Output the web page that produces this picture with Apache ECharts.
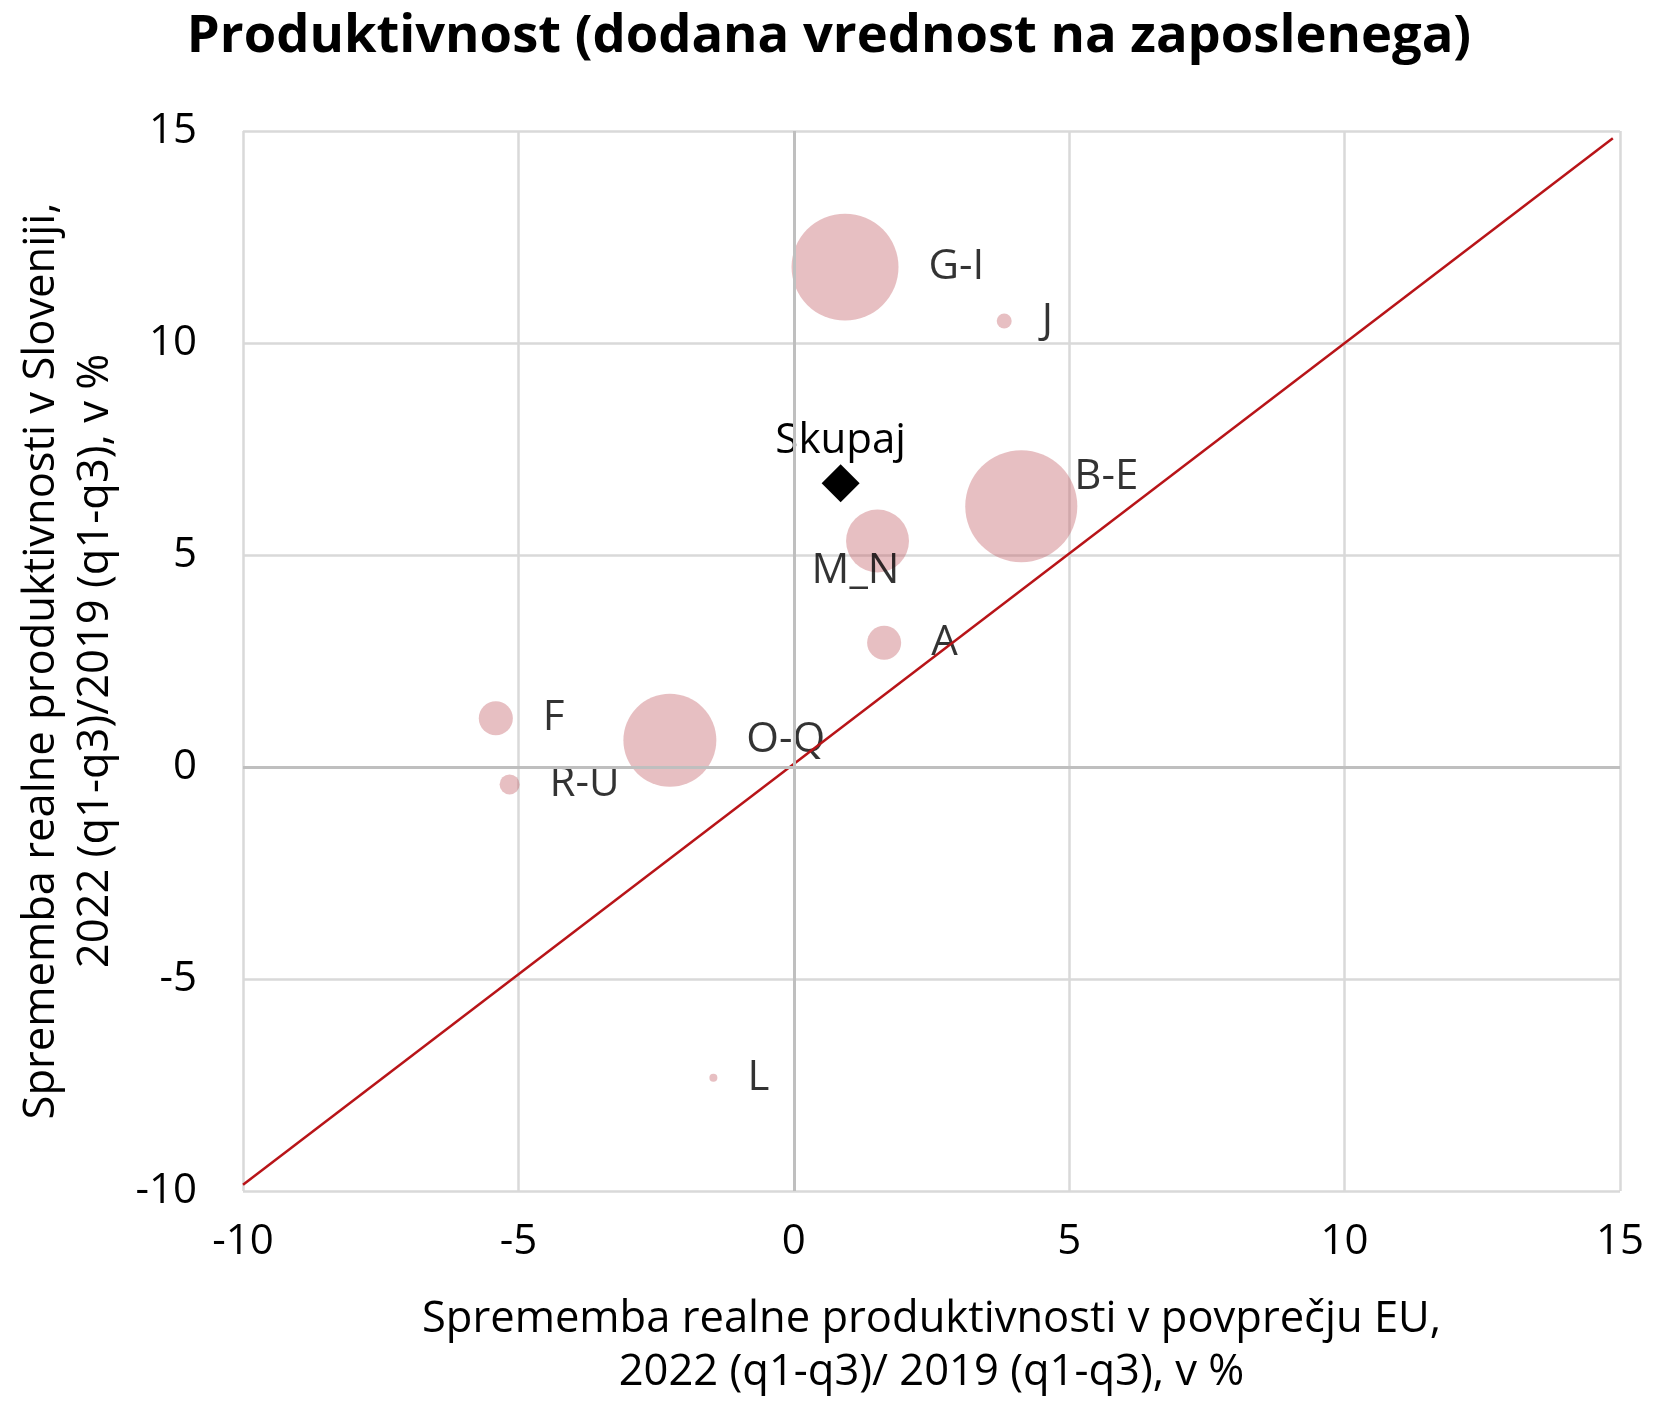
<!DOCTYPE html>
<html>
<head>
<meta charset="utf-8">
<title>Produktivnost</title>
<script src="https://cdn.jsdelivr.net/npm/echarts@6/dist/echarts.min.js"></script>
<style>
  html, body { margin: 0; padding: 0; background: #fff; }
  #main { width: 1654px; height: 1404px; }
</style>
</head>
<body>
<div id="main"></div>
<script type="text/javascript">
// sektorji (dejavnosti)
var sectors = ['G-I', 'J', 'B-E', 'M_N', 'A', 'F', 'O-Q', 'R-U', 'L'];
// sprememba produktivnosti v povprečju EU (x) in v Sloveniji (y), v %
var euChange  = [0.93, 3.82, 4.13, 1.52, 1.64, -5.41, -2.25, -5.16, -1.46];
var sloChange = [11.79, 10.52, 6.15, 5.33, 2.93, 1.15, 0.63, -0.41, -7.33];
// utež (velikost mehurčka)
var weights   = [28.6, 0.56, 31.4, 9.9, 2.9, 2.9, 21.6, 1.0, 0.16];
// skupaj
var totalPoint = [0.85, 6.69];
// diagonala y = x
var diagX = [-10, 14.87];
var diagY = [-9.85, 14.83];
var axisTicks = [-10, -5, 0, 5, 10, 15];

var FONT = '"Open Sans", "Noto Sans", sans-serif';

var myChart = echarts.init(document.getElementById('main'));

var bubbleData = [];
for (var i = 0; i < sectors.length; i++) {
  var item = { name: sectors[i], value: [euChange[i], sloChange[i], weights[i]] };
  if (sectors[i] === 'B-E') {
    item.label = { position: 'right', distance: 0, offset: [-3, -29] };
  } else if (sectors[i] === 'M_N') {
    item.label = { position: 'inside', offset: [-22, 30] };
  }
  bubbleData.push(item);
}

var diagData = [];
for (var k = 0; k < diagX.length; k++) diagData.push([diagX[k], diagY[k]]);

var option = {
  animation: false,
  backgroundColor: '#fff',
  title: {
    text: 'Produktivnost (dodana vrednost na zaposlenega)',
    left: 824,
    top: 6,
    textAlign: 'center',
    textStyle: { fontFamily: FONT, fontWeight: 'bold', fontSize: 52.5, color: '#000' }
  },
  grid: { left: 243, right: 34, top: 131, bottom: 207, containLabel: false },
  xAxis: {
    type: 'value',
    min: axisTicks[0],
    max: axisTicks[axisTicks.length - 1],
    interval: 5,
    name: 'Sprememba realne produktivnosti v povprečju EU,\n2022 (q1-q3)/ 2019 (q1-q3), v %',
    nameLocation: 'middle',
    nameGap: 102,
    nameTextStyle: { fontFamily: FONT, fontSize: 43.5, color: '#000', lineHeight: 53 },
    axisLine: { show: false },
    axisTick: { show: false },
    axisLabel: { fontFamily: FONT, fontSize: 42, color: '#000', margin: 30 },
    splitLine: { show: true, lineStyle: { color: '#D9D9D9', width: 2.5 } }
  },
  yAxis: {
    type: 'value',
    min: axisTicks[0],
    max: axisTicks[axisTicks.length - 1],
    interval: 5,
    name: 'Sprememba realne produktivnosti v Sloveniji,\n2022 (q1-q3)/2019 (q1-q3), v %',
    nameLocation: 'middle',
    nameGap: 120,
    nameTextStyle: { fontFamily: FONT, fontSize: 43.5, color: '#000', lineHeight: 54 },
    axisLine: { show: false },
    axisTick: { show: false },
    axisLabel: { fontFamily: FONT, fontSize: 42, color: '#000', margin: 46 },
    splitLine: { show: true, lineStyle: { color: '#D9D9D9', width: 2.5 } }
  },
  series: [
    {
      // ničelni osi
      type: 'line',
      data: [],
      z: 1,
      silent: true,
      markLine: {
        silent: true,
        symbol: 'none',
        label: { show: false },
        lineStyle: { color: '#BFBFBF', width: 3, type: 'solid' },
        data: [{ xAxis: 0 }, { yAxis: 0 }]
      }
    },
    {
      type: 'scatter',
      data: bubbleData,
      z: 2,
      symbolSize: function (v) { return 20 * Math.sqrt(v[2]); },
      itemStyle: { color: 'rgba(196, 96, 102, 0.5)' },
      label: {
        show: true,
        position: 'right',
        distance: 30,
        formatter: '{b}',
        fontFamily: FONT,
        fontSize: 42,
        color: '#000'
      }
    },
    {
      type: 'scatter',
      name: 'Skupaj',
      data: [{ name: 'Skupaj', value: totalPoint }],
      z: 4,
      symbol: 'diamond',
      symbolSize: 38,
      itemStyle: { color: '#000', opacity: 1 },
      label: {
        show: true,
        position: 'top',
        distance: 2,
        formatter: '{b}',
        fontFamily: FONT,
        fontSize: 42,
        color: '#000'
      }
    },
    {
      type: 'line',
      data: diagData,
      z: 3,
      symbol: 'none',
      silent: true,
      lineStyle: { color: '#B81418', width: 2.5 }
    }
  ]
};

myChart.setOption(option);
</script>
</body>
</html>
